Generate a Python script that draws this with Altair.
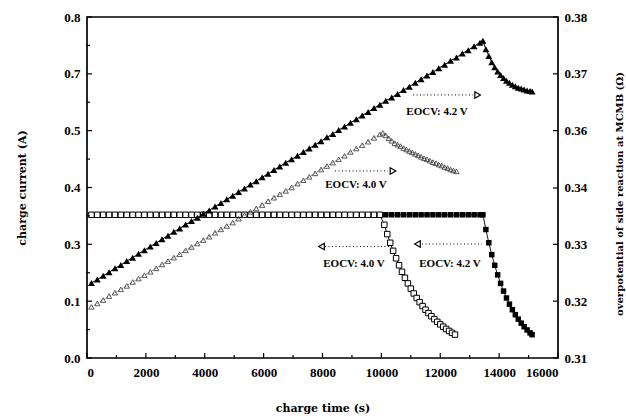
import altair as alt
import pandas as pd

FONT = "Liberation Serif"
TITLE_FONT = "DejaVu Serif"

# ---- sampling times of the constant-current stage (s) ----
GRID_T = [150, 350, 550, 750, 950, 1150, 1350, 1550, 1750, 1950,
          2150, 2350, 2550, 2750, 2950, 3150, 3350, 3550, 3750, 3950,
          4150, 4350, 4550, 4750, 4950, 5150, 5350, 5550, 5750, 5950,
          6150, 6350, 6550, 6750, 6950, 7150, 7350, 7550, 7750, 7950,
          8150, 8350, 8550, 8750, 8950, 9150, 9350, 9550, 9750, 9950,
          10150, 10350, 10550, 10750, 10950, 11150, 11350, 11550, 11750, 11950,
          12150, 12350, 12550, 12750, 12950, 13150, 13350]

# charge current (A) during the constant-current stage
CC_CURRENT = 0.336

# ---- EOCV 4.0 V: current decay during the constant-voltage stage ----
CV40_T = [10100, 10200, 10300, 10400, 10500, 10600, 10700, 10800, 10900, 11000,
          11100, 11200, 11300, 11400, 11500, 11600, 11700, 11800, 11900, 12000,
          12100, 12200, 12300, 12400, 12500]
CV40_I = [0.3125, 0.2907, 0.2703, 0.2514, 0.2339, 0.2175, 0.2023, 0.1882, 0.1750, 0.1628,
          0.1514, 0.1408, 0.1310, 0.1218, 0.1133, 0.1054, 0.0980, 0.0912, 0.0848, 0.0789,
          0.0734, 0.0682, 0.0635, 0.0590, 0.0549]

# ---- EOCV 4.2 V: current decay during the constant-voltage stage ----
CV42_T = [13450, 13550, 13650, 13750, 13850, 13950, 14050, 14150, 14250, 14350,
          14450, 14550, 14650, 14750, 14850, 14950, 15050, 15120]
CV42_I = [0.3360, 0.3014, 0.2703, 0.2425, 0.2175, 0.1951, 0.1750, 0.1570, 0.1408, 0.1263,
          0.1133, 0.1016, 0.0912, 0.0818, 0.0734, 0.0658, 0.0590, 0.0547]

# ---- overpotential of side reaction (ohm), EOCV 4.2 V ----
ETA42_RISE = [0.3254, 0.3261, 0.3269, 0.3276, 0.3284, 0.3291, 0.3299, 0.3306, 0.3314, 0.3321,
              0.3329, 0.3336, 0.3344, 0.3351, 0.3359, 0.3366, 0.3374, 0.3381, 0.3388, 0.3396,
              0.3403, 0.3411, 0.3418, 0.3426, 0.3433, 0.3441, 0.3448, 0.3456, 0.3463, 0.3471,
              0.3478, 0.3486, 0.3493, 0.3501, 0.3508, 0.3515, 0.3523, 0.3530, 0.3538, 0.3545,
              0.3553, 0.3560, 0.3568, 0.3575, 0.3583, 0.3590, 0.3598, 0.3605, 0.3613, 0.3620,
              0.3628, 0.3635, 0.3642, 0.3650, 0.3657, 0.3665, 0.3672, 0.3680, 0.3687, 0.3695,
              0.3702, 0.3710, 0.3717, 0.3725, 0.3732, 0.3740, 0.3747]
ETA42_DECAY = [0.3751, 0.3734, 0.3720, 0.3707, 0.3697, 0.3688, 0.3681, 0.3675, 0.3669, 0.3665,
               0.3661, 0.3658, 0.3655, 0.3653, 0.3651, 0.3649, 0.3648, 0.3647]

# ---- overpotential of side reaction (ohm), EOCV 4.0 V ----
ETA40_RISE = [0.3205, 0.3212, 0.3219, 0.3227, 0.3234, 0.3241, 0.3248, 0.3256, 0.3263, 0.3270,
              0.3277, 0.3284, 0.3292, 0.3299, 0.3306, 0.3313, 0.3321, 0.3328, 0.3335, 0.3342,
              0.3349, 0.3357, 0.3364, 0.3371, 0.3378, 0.3386, 0.3393, 0.3400, 0.3407, 0.3414,
              0.3422, 0.3429, 0.3436, 0.3443, 0.3450, 0.3458, 0.3465, 0.3472, 0.3479, 0.3487,
              0.3494, 0.3501, 0.3508, 0.3515, 0.3523, 0.3530, 0.3537, 0.3544, 0.3552, 0.3559]
ETA40_DECAY_T = [10050, 10150, 10250, 10350, 10450, 10550, 10650, 10750, 10850, 10950,
                 11050, 11150, 11250, 11350, 11450, 11550, 11650, 11750, 11850, 11950,
                 12050, 12150, 12250, 12350, 12450, 12550]
ETA40_DECAY = [0.3562, 0.3557, 0.3551, 0.3546, 0.3541, 0.3538, 0.3535, 0.3531, 0.3528, 0.3525,
               0.3522, 0.3519, 0.3516, 0.3513, 0.3510, 0.3508, 0.3505, 0.3502, 0.3500, 0.3497,
               0.3495, 0.3492, 0.3490, 0.3487, 0.3485, 0.3483]

# ---- axis ticks ----
X_TICKS = [0, 2000, 4000, 6000, 8000, 10000, 12000, 14000, 16000]
X_MINOR = [1000, 3000, 5000, 7000, 9000, 11000, 13000, 15000]
LEFT_TICKS = [0.0, 0.13333, 0.26667, 0.4, 0.53333, 0.66667, 0.8]
LEFT_MINOR = [0.06667, 0.2, 0.33333, 0.46667, 0.6, 0.73333]
RIGHT_TICKS = [0.31, 0.32167, 0.33333, 0.3449, 0.35667, 0.36833, 0.38]

# ---- annotations (current-axis ones below, overpotential-axis ones above) ----
NOTE_I_TEXT = ["EOCV: 4.0 V", "EOCV: 4.2 V"]
NOTE_I_T = [9070, 12331]
NOTE_I_Y = [0.2205, 0.2205]
ARROW_I_START = [8085, 11380]
ARROW_I_END = [10293, 13418]
ARROW_I_HEAD = [7966, 11227]
ARROW_I_Y = [0.2616, 0.2674]

NOTE_E_TEXT = ["EOCV: 4.2 V", "EOCV: 4.0 V"]
NOTE_E_T = [11890, 9138]
NOTE_E_Y = [0.3605, 0.3455]
ARROW_E_START = [11074, 8425]
ARROW_E_END = [13120, 10225]
ARROW_E_HEAD = [13270, 10395]
ARROW_E_Y = [0.3640, 0.3484]

W, H = 471, 341

n40 = len(ETA40_RISE)
sq42 = pd.DataFrame({"t": GRID_T + CV42_T, "v": [CC_CURRENT] * len(GRID_T) + CV42_I})
sq40 = pd.DataFrame({"t": GRID_T[:n40] + CV40_T, "v": [CC_CURRENT] * n40 + CV40_I})
tri42 = pd.DataFrame({"t": GRID_T + CV42_T, "v": ETA42_RISE + ETA42_DECAY})
tri40 = pd.DataFrame({"t": GRID_T[:n40] + ETA40_DECAY_T, "v": ETA40_RISE + ETA40_DECAY})

xscale = alt.Scale(domain=[0, 16000], nice=False, zero=False)
lscale = alt.Scale(domain=[0, 0.8], nice=False, zero=False)
rscale = alt.Scale(domain=[0.31, 0.38], nice=False, zero=False)

x_axis = alt.Axis(values=X_TICKS, format="d", title="charge time (s)", domain=False, ticks=False,
                  labelPadding=8, titleX=W / 2, titleY=50, titleBaseline="middle",
                  titleFontSize=11)
l_axis = alt.Axis(values=LEFT_TICKS, format=".1f", title="charge current (A)", orient="left",
                  domain=False, ticks=False, labelPadding=7, titleAngle=270,
                  titleX=-65, titleY=H / 2, titleAlign="center", titleBaseline="middle",
                  titleFontSize=11)
r_axis = alt.Axis(values=RIGHT_TICKS, format=".2f", orient="right",
                  title="overpotential of side reaction at MCMB (\u03a9)",
                  domain=False, ticks=False, labelPadding=6, titleAngle=270,
                  titleX=61, titleY=H / 2 + 6, titleAlign="center", titleBaseline="middle",
                  titleFontSize=10)


def X():
    return alt.X("t:Q", scale=xscale, axis=x_axis)


def YL():
    return alt.Y("v:Q", scale=lscale, axis=l_axis)


def YR():
    return alt.Y("v:Q", scale=rscale, axis=r_axis)


# --- current series (left axis) ---
line42 = alt.Chart(sq42).mark_line(color="black", strokeWidth=0.9).encode(x=X(), y=YL())
pts42 = alt.Chart(sq42).mark_point(shape="square", filled=True, color="black", size=30,
                                   opacity=1).encode(x=X(), y=YL())
line40 = alt.Chart(sq40).mark_line(color="black", strokeWidth=0.9).encode(x=X(), y=YL())
pts40 = alt.Chart(sq40).mark_point(shape="square", filled=True, fill="white", stroke="black",
                                   strokeWidth=1, size=30, opacity=1).encode(x=X(), y=YL())

# frame ticks pointing into the plot
xt = pd.DataFrame({"t": X_TICKS})
xm = pd.DataFrame({"t": X_MINOR})
lt = pd.DataFrame({"v": LEFT_TICKS})
lm = pd.DataFrame({"v": LEFT_MINOR})
rt = pd.DataFrame({"v": RIGHT_TICKS})
tick_style = dict(color="black", strokeWidth=1.2)
x_major = alt.Chart(xt).mark_rule(**tick_style).encode(x=X(), y=alt.value(H), y2=alt.value(H - 5))
x_minor = alt.Chart(xm).mark_rule(**tick_style).encode(x=X(), y=alt.value(H), y2=alt.value(H - 3))
l_major = alt.Chart(lt).mark_rule(**tick_style).encode(y=YL(), x=alt.value(0), x2=alt.value(5))
l_minor = alt.Chart(lm).mark_rule(**tick_style).encode(y=YL(), x=alt.value(0), x2=alt.value(3))

note_i = pd.DataFrame({"t": NOTE_I_T, "v": NOTE_I_Y, "label": NOTE_I_TEXT})
arrow_i = pd.DataFrame({"t": ARROW_I_START, "t2": ARROW_I_END, "v": ARROW_I_Y})
head_i = pd.DataFrame({"t": ARROW_I_HEAD, "v": ARROW_I_Y})
txt_i = alt.Chart(note_i).mark_text(font=FONT, fontSize=11, fontWeight="bold", color="black").encode(
    x=X(), y=YL(), text="label:N")
dots_i = alt.Chart(arrow_i).mark_rule(color="black", strokeWidth=1, strokeDash=[1, 2.5]).encode(
    x=X(), x2="t2:Q", y=YL())
heads_i = alt.Chart(head_i).mark_point(shape="triangle-left", filled=True, fill="white", stroke="black",
                                       strokeWidth=1.2, size=42, opacity=1).encode(x=X(), y=YL())

left = alt.layer(line42, pts42, line40, pts40, x_major, x_minor, l_major, l_minor,
                 dots_i, heads_i, txt_i)

# --- overpotential series (right axis) ---
tline42 = alt.Chart(tri42).mark_line(color="black", strokeWidth=1).encode(x=X(), y=YR())
tpts42 = alt.Chart(tri42).mark_point(shape="triangle-up", filled=True, color="black", size=48,
                                     opacity=1).encode(x=X(), y=YR())
tline40 = alt.Chart(tri40).mark_line(color="#555555", strokeWidth=0.7, strokeDash=[2, 1.5]).encode(x=X(), y=YR())
tpts40 = alt.Chart(tri40).mark_point(shape="triangle-up", filled=False, color="#333333",
                                     strokeWidth=0.8, size=28, opacity=1).encode(x=X(), y=YR())
r_major = alt.Chart(rt).mark_rule(**tick_style).encode(y=YR(), x=alt.value(W), x2=alt.value(W - 5))

note_e = pd.DataFrame({"t": NOTE_E_T, "v": NOTE_E_Y, "label": NOTE_E_TEXT})
arrow_e = pd.DataFrame({"t": ARROW_E_START, "t2": ARROW_E_END, "v": ARROW_E_Y})
head_e = pd.DataFrame({"t": ARROW_E_HEAD, "v": ARROW_E_Y})
txt_e = alt.Chart(note_e).mark_text(font=FONT, fontSize=11, fontWeight="bold", color="black").encode(
    x=X(), y=YR(), text="label:N")
dots_e = alt.Chart(arrow_e).mark_rule(color="black", strokeWidth=1, strokeDash=[1, 2.5]).encode(
    x=X(), x2="t2:Q", y=YR())
heads_e = alt.Chart(head_e).mark_point(shape="triangle-right", filled=True, fill="white", stroke="black",
                                       strokeWidth=1.2, size=42, opacity=1).encode(x=X(), y=YR())

right = alt.layer(tline40, tpts40, tline42, tpts42, r_major, dots_e, heads_e, txt_e)

chart = (
    alt.layer(left, right)
    .resolve_scale(y="independent")
    .properties(width=W, height=H, autosize="none",
                padding={"left": 87, "top": 17, "right": 68, "bottom": 58},
                background="white")
    .configure_view(stroke="black", strokeWidth=1.7)
    .configure_axis(labelFont=FONT, labelFontSize=13, labelFontWeight="bold", labelColor="black",
                    titleFont=TITLE_FONT, titleFontWeight="bold", titleColor="black",
                    grid=False)
)

chart.save("out.html", embed_options={"renderer": "svg", "actions": False})
